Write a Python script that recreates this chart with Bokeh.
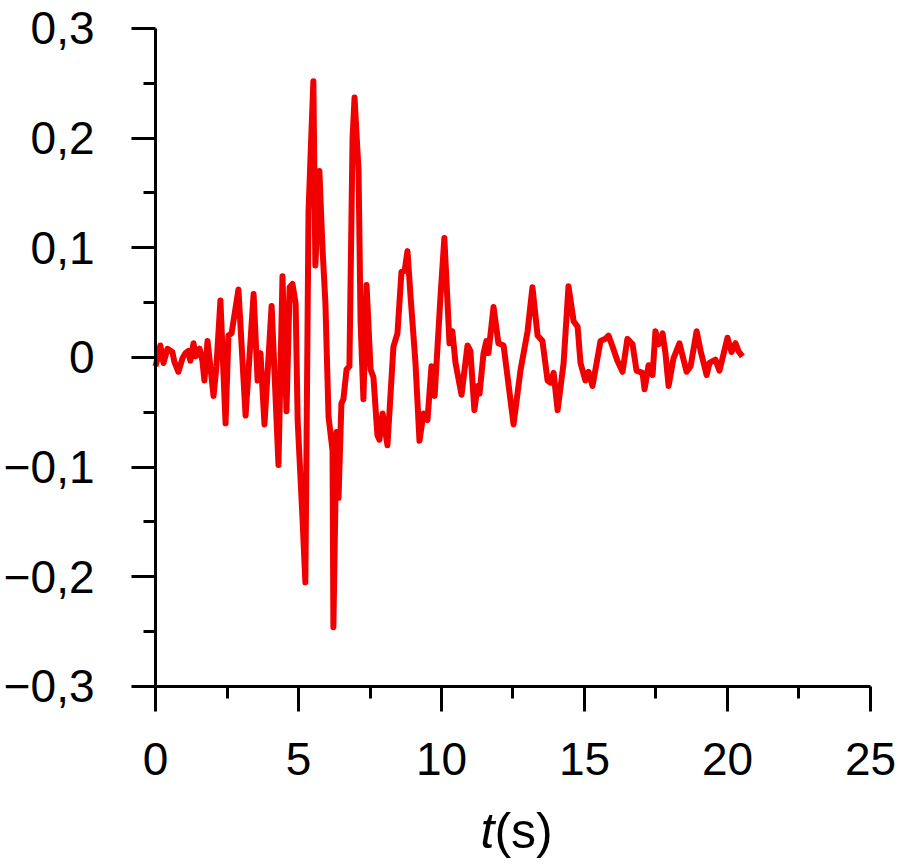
from bokeh.plotting import figure
from bokeh.models import Range1d, FixedTicker, Label, ColumnDataSource
from bokeh.embed import file_html
from bokeh.resources import INLINE

# ---- data ----
t_s = [0.00, 0.07, 0.17, 0.28, 0.42, 0.59, 0.66, 0.80, 0.94, 1.05, 1.15, 1.22, 1.33, 1.40, 1.54,
       1.64, 1.71, 1.82, 2.03, 2.13, 2.27, 2.45, 2.55, 2.66, 2.90, 3.15, 3.43, 3.57, 3.67, 3.81,
       4.06, 4.30, 4.44, 4.58, 4.69, 4.79, 4.90, 4.97, 5.14, 5.24, 5.35, 5.42, 5.52, 5.59, 5.73,
       5.84, 5.94, 6.05, 6.19, 6.22, 6.33, 6.40, 6.50, 6.57, 6.68, 6.78, 6.89, 6.96, 7.10, 7.17,
       7.27, 7.38, 7.52, 7.62, 7.76, 7.83, 7.94, 8.11, 8.32, 8.46, 8.60, 8.71, 8.81, 8.92, 9.09,
       9.23, 9.37, 9.51, 9.65, 9.76, 9.97, 10.10, 10.28, 10.38, 10.49, 10.70, 10.91, 11.01, 11.15,
       11.26, 11.33, 11.47, 11.57, 11.64, 11.82, 11.99, 12.17, 12.52, 12.76, 13.01, 13.18, 13.36,
       13.53, 13.71, 13.81, 13.92, 14.06, 14.27, 14.44, 14.62, 14.76, 14.86, 15.03, 15.14, 15.28,
       15.56, 15.73, 15.84, 15.98, 16.15, 16.33, 16.50, 16.68, 16.82, 17.03, 17.10, 17.24, 17.38,
       17.48, 17.59, 17.73, 17.83, 17.94, 18.11, 18.32, 18.57, 18.71, 18.92, 19.06, 19.27, 19.37,
       19.58, 19.72, 20.00, 20.14, 20.28, 20.38, 20.52]
signal = [-0.008, -0.001, 0.011, -0.005, 0.008, 0.005, -0.004, -0.013, -0.001, 0.004, 0.006, -0.003,
          0.013, 0.001, 0.008, -0.003, -0.021, 0.015, -0.035, -0.008, 0.052, -0.060, 0.020, 0.022,
          0.062, -0.053, 0.058, -0.021, 0.004, -0.061, 0.047, -0.098, 0.074, -0.049, 0.064, 0.067,
          0.049, -0.057, -0.147, -0.205, 0.133, 0.183, 0.252, 0.084, 0.170, 0.099, 0.050, -0.054,
          -0.085, -0.246, -0.068, -0.128, -0.042, -0.038, -0.011, -0.008, 0.200, 0.237, 0.170, 0.033,
          -0.038, 0.066, -0.011, -0.018, -0.071, -0.075, -0.051, -0.080, 0.010, 0.022, 0.078, 0.079,
          0.097, 0.055, -0.005, -0.076, -0.051, -0.057, -0.008, -0.035, 0.058, 0.109, 0.013, 0.024,
          -0.005, -0.034, 0.011, 0.006, -0.048, -0.026, -0.033, 0.004, 0.015, 0.004, 0.046, 0.013,
          0.011, -0.061, -0.012, 0.024, 0.064, 0.020, 0.015, -0.021, -0.023, -0.014, -0.048, -0.005,
          0.065, 0.033, 0.028, -0.005, -0.021, -0.013, -0.026, 0.015, 0.017, 0.020, 0.010, -0.003,
          -0.013, 0.017, 0.012, -0.012, -0.014, -0.029, -0.007, -0.016, 0.024, 0.012, 0.022, 0.004,
          -0.026, -0.001, 0.013, -0.013, -0.008, 0.024, 0.006, -0.016, -0.005, -0.002, -0.012, 0.018,
          0.005, 0.013, 0.006, 0.001]

x_major_ticks = [0, 5, 10, 15, 20, 25]
x_minor_ticks = [2.5, 7.5, 12.5, 17.5, 22.5]
x_tick_labels = ["0", "5", "10", "15", "20", "25"]
y_major_ticks = [-0.3, -0.2, -0.1, 0, 0.1, 0.2, 0.3]
y_minor_ticks = [-0.25, -0.15, -0.05, 0.05, 0.15, 0.25]
y_tick_labels = ["\u22120,3", "\u22120,2", "\u22120,1", "0", "0,1", "0,2", "0,3"]
x_label_italic = "t"
x_label_unit = "(s)"

FONT = "Liberation Sans"
X_MIN, X_MAX = 0, 25
Y_MIN, Y_MAX = -0.3, 0.3

# The frame spans the whole canvas; the axes are pinned at x=0 / y=-0.3 and
# the extra view range leaves room for tick labels and the axis title.
p = figure(output_backend="svg", toolbar_location=None,
           frame_width=905, frame_height=862,
           min_border_left=0, min_border_right=0, min_border_top=0, min_border_bottom=0,
           x_range=Range1d(-5.4196, 26.2238), y_range=Range1d(-0.46049, 0.32553),
           background_fill_color="white", border_fill_color="white")
p.outline_line_color = None
p.grid.visible = False

src = ColumnDataSource(dict(t=t_s, v=signal))
p.line("t", "v", source=src, line_color="#f00000", line_width=6, line_join="round")

for ax in (p.xaxis[0], p.yaxis[0]):
    ax.axis_line_width = 3
    ax.axis_line_color = "black"
    ax.major_tick_line_width = 3
    ax.minor_tick_line_width = 3
    ax.major_tick_line_color = "black"
    ax.minor_tick_line_color = "black"
    ax.major_tick_in = 0
    ax.minor_tick_in = 0
    ax.major_label_text_font = FONT
    ax.major_label_text_color = "black"

xa = p.xaxis[0]
xa.fixed_location = Y_MIN
xa.bounds = (X_MIN, X_MAX)
xa.ticker = FixedTicker(ticks=x_major_ticks, minor_ticks=x_minor_ticks)
xa.major_label_overrides = {v: s for v, s in zip(x_major_ticks, x_tick_labels)}
xa.major_tick_out = 25
xa.minor_tick_out = 12
xa.major_label_text_font_size = "46px"
xa.major_label_standoff = 32

ya = p.yaxis[0]
ya.fixed_location = X_MIN
ya.bounds = (Y_MIN, Y_MAX)
ya.ticker = FixedTicker(ticks=y_major_ticks, minor_ticks=y_minor_ticks)
ya.major_label_overrides = {v: s for v, s in zip(y_major_ticks, y_tick_labels)}
ya.major_tick_out = 24
ya.minor_tick_out = 12
ya.major_label_text_font_size = "46px"
ya.major_label_standoff = 37

lab_t = Label(x=11.85, y=-0.432, text=x_label_italic, text_font=FONT, text_font_size="50px",
              text_font_style="italic", text_align="right", text_baseline="middle", text_color="black")
lab_s = Label(x=11.85, y=-0.432, text=x_label_unit, text_font=FONT, text_font_size="50px",
              text_align="left", text_baseline="middle", text_color="black")
p.add_layout(lab_t)
p.add_layout(lab_s)

open("out.html", "w").write(file_html(p, INLINE))
